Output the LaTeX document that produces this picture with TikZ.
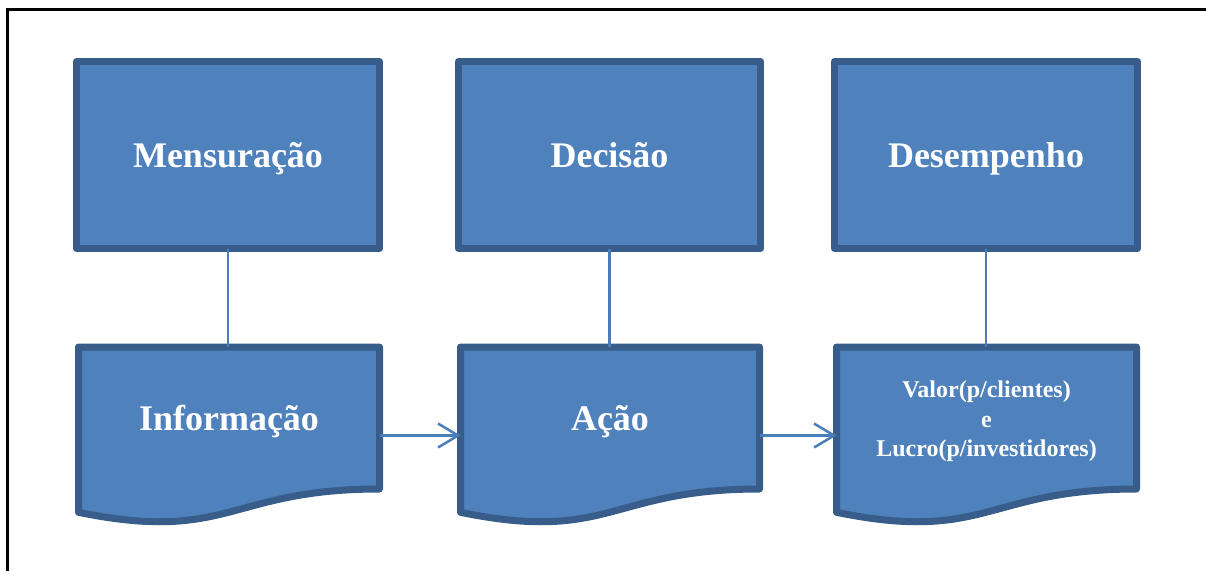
\documentclass[tikz,border=0pt]{standalone}
\usepackage{fontspec}
\setmainfont{Liberation Serif}
\usetikzlibrary{arrows.meta,calc}
\definecolor{boxfill}{HTML}{4F81BD}
\definecolor{boxline}{HTML}{385D8A}
\definecolor{conn}{HTML}{4A7EBB}
\newcommand\docoutline[1]{%
  \path[docpath] (#1.north west) -- (#1.north east) -- ([yshift=35pt]#1.south east)
    .. controls ([yshift=35pt]#1.south) and ([yshift=-19pt]#1.south) .. ([yshift=11.7pt]#1.south west) -- cycle;}
\begin{document}
\begin{tikzpicture}[x=1pt,y=-1pt,
  topbox/.style={draw=boxline, fill=boxfill, line width=7pt, line join=round,
    inner sep=0pt, outer sep=0pt, minimum width=303pt, minimum height=187pt,
    text=white, font=\fontsize{36}{40}\selectfont\bfseries, text height=24pt, text depth=0pt},
  docframe/.style={draw=none, inner sep=0pt, outer sep=0pt, minimum width=300pt, minimum height=177pt},
  docpath/.style={draw=boxline, fill=boxfill, line width=7pt, line join=round},
  doctext/.style={text=white, font=\fontsize{36}{40}\selectfont\bfseries, text height=24pt, text depth=0pt, inner sep=0pt},
  smalltext/.style={text=white, font=\fontsize{24}{29.5}\selectfont\bfseries, align=center, inner sep=0pt},
  link/.style={draw=conn, line width=2.5pt},
  flow/.style={link, -{Straight Barb[length=20pt,width=24pt]}},
  frameline/.style={draw=black, line width=3.5pt}]
\useasboundingbox (0,0) rectangle (1206,571);
% frame
\coordinate (fbl) at (7.5,571);
\coordinate (ftl) at (7.5,9.5);
\coordinate (ftr) at (1206,9.5);
\draw[frameline] (fbl) -- (ftl) -- (ftr);
% top boxes
\node[topbox] (mens) at (228,155) {Mensuração};
\node[topbox, minimum width=302pt] (deci) at (609.5,155) {Decisão};
\node[topbox] (dese) at (986,155) {Desempenho};
% document shapes
\node[docframe, minimum width=301pt] (info) at (229,435.5) {};
\node[docframe, minimum width=299pt] (acao) at (610,435.5) {};
\node[docframe] (valor) at (986.5,435.5) {};
\docoutline{info}
\docoutline{acao}
\docoutline{valor}
\node[doctext] (infot) at ([yshift=17.5pt]info.center) {Informação};
\node[doctext] (acaot) at ([yshift=17.5pt]acao.center) {Ação};
\node[smalltext] (valort) at ([yshift=14pt]valor.center) {Valor(p/clientes)\\e\\Lucro(p/investidores)};
% connectors
\draw[link] (mens.south) -- (mens.south |- info.north);
\draw[link] (deci.south) -- (deci.south |- acao.north);
\draw[link] (dese.south) -- (dese.south |- valor.north);
\draw[flow] (info.east) -- (acao.west);
\draw[flow] (acao.east) -- (valor.west);
\end{tikzpicture}
\end{document}
